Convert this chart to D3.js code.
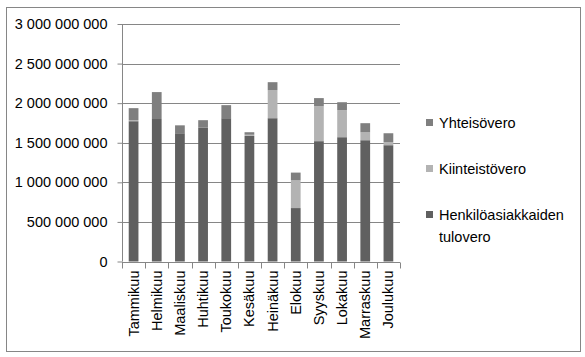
<!DOCTYPE html>
<html><head><meta charset="utf-8">
<script src="https://cdn.jsdelivr.net/npm/d3@7"></script>
<style>body{margin:0;background:#fff}svg{display:block}text{font-family:"Liberation Sans",Arial,sans-serif}</style>
</head><body>
<svg id="c" width="585" height="357"></svg>
<script>
const months = ["Tammikuu","Helmikuu","Maaliskuu","Huhtikuu","Toukokuu","Kesäkuu","Heinäkuu","Elokuu","Syyskuu","Lokakuu","Marraskuu","Joulukuu"];
const henkilo = [1772e6,1800e6,1620e6,1690e6,1810e6,1586e6,1810e6,675e6,1520e6,1570e6,1532e6,1469e6];
const kiinteisto = [12e6,0,0,0,0,15e6,355e6,350e6,442e6,342e6,100e6,38e6];
const yhteiso = [153e6,340e6,100e6,95e6,165e6,32e6,100e6,98e6,102e6,100e6,115e6,113e6];
const seriesNames = ["Henkilöasiakkaiden tulovero","Kiinteistövero","Yhteisövero"];
const yTicks = [0,500e6,1000e6,1500e6,2000e6,2500e6,3000e6];
const colors = ["#606060","#b3b3b3","#7f7f7f"];

const svg = d3.select("#c");
svg.append("rect").attr("x",6.5).attr("y",7.5).attr("width",574).attr("height",344)
  .attr("fill","#fff").attr("stroke","#868686");

const x0 = 122, x1 = 400, yTop = 24, yBot = 261.5;
const x = d3.scaleBand().domain(months).range([x0,x1]).paddingInner(0.58).paddingOuter(0.29);
const y = d3.scaleLinear().domain([0,3e9]).range([yBot,yTop]);
const fmt = v => d3.format(",")(v).replace(/,/g," ");

svg.append("g").selectAll("line").data(yTicks.filter(t=>t>0)).join("line")
  .attr("x1",x0).attr("x2",x1).attr("y1",d=>Math.round(y(d))+0.5).attr("y2",d=>Math.round(y(d))+0.5)
  .attr("stroke","#868686");

const data = months.map((m,i)=>({m, h:henkilo[i], k:kiinteisto[i], yh:yhteiso[i]}));
const stack = d3.stack().keys(["h","k","yh"])(data);
svg.append("g").selectAll("g").data(stack).join("g").attr("fill",(d,i)=>colors[i])
  .selectAll("rect").data(d=>d).join("rect")
  .attr("x",d=>x(d.data.m)).attr("width",x.bandwidth())
  .attr("y",d=>y(d[1])).attr("height",d=>Math.max(0,y(d[0])-y(d[1])));

const ya = svg.append("g").attr("transform",`translate(${x0+0.5},0)`)
  .call(d3.axisLeft(y).tickValues(yTicks).tickFormat(fmt).tickSize(5).tickPadding(10));
ya.selectAll("path,line").attr("stroke","#868686");
ya.select(".domain").attr("d",`M0,${yBot}V${yTop}`);
ya.selectAll("text").attr("font-size","14.5px").attr("fill","#000").attr("font-family","Liberation Sans, Arial, sans-serif");

const xa = svg.append("g").attr("transform",`translate(0,${Math.round(yBot)+0.5})`);
xa.append("line").attr("x1",x0).attr("x2",x1).attr("stroke","#868686");
const step = (x1-x0)/months.length;
xa.selectAll("line.t").data(d3.range(months.length+1)).join("line").attr("class","t")
  .attr("x1",d=>Math.round(x0+d*step)+0.5).attr("x2",d=>Math.round(x0+d*step)+0.5)
  .attr("y1",0).attr("y2",6).attr("stroke","#868686");
xa.selectAll("text").data(months).join("text")
  .attr("transform",d=>`translate(${x(d)+x.bandwidth()/2+5},8) rotate(-90)`)
  .attr("text-anchor","end").attr("font-size","14.5px").attr("fill","#000").text(d=>d);

const leg = [
  {name:"Yhteisövero", c:colors[2], y:123},
  {name:"Kiinteistövero", c:colors[1], y:169},
  {name:"Henkilöasiakkaiden", c:colors[0], y:215, line2:"tulovero"}
];
const lg = svg.append("g");
leg.forEach(l=>{
  lg.append("rect").attr("x",426).attr("y",l.y-4).attr("width",7).attr("height",7).attr("fill",l.c);
  lg.append("text").attr("x",439).attr("y",l.y+5).attr("font-size","14.5px").attr("fill","#000").text(l.name);
  if(l.line2) lg.append("text").attr("x",439).attr("y",l.y+27).attr("font-size","14.5px").attr("fill","#000").text(l.line2);
});
</script>
</body></html>
